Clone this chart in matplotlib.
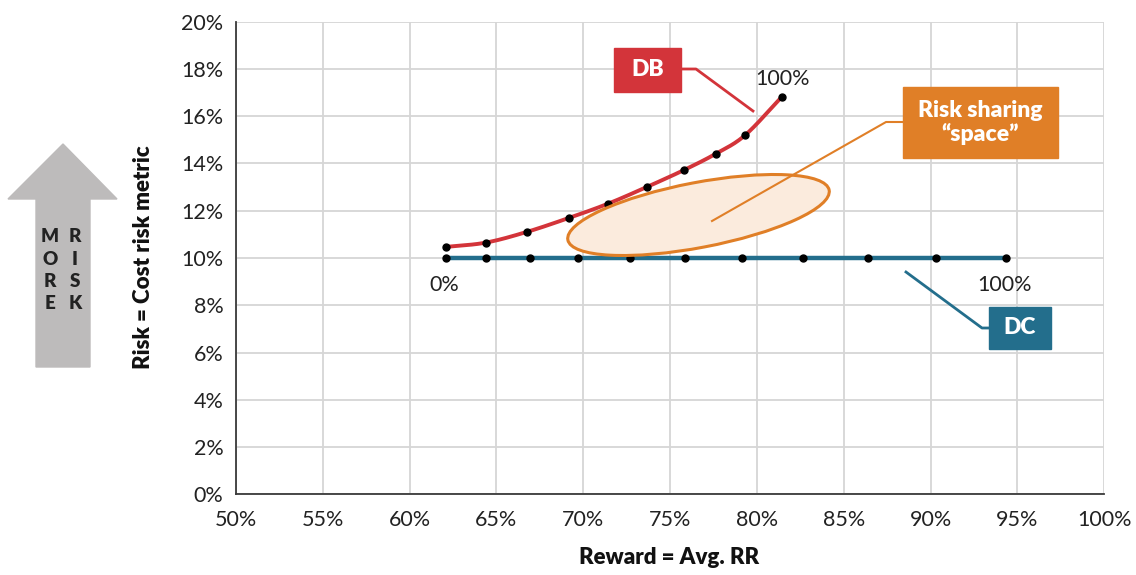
import numpy as np
import matplotlib
matplotlib.use('Agg')
import matplotlib.pyplot as plt
from matplotlib.patches import Rectangle, Polygon, Ellipse
from matplotlib.lines import Line2D
import matplotlib.transforms as mtransforms

plt.rcParams['font.family'] = ['Lato', 'DejaVu Sans']

# reward (avg RR, %) and risk (cost risk metric, %)
db_reward = [62.10, 64.38, 66.73, 69.15, 71.43, 73.64, 75.79, 77.65, 79.32, 81.43]
db_risk = [10.47, 10.65, 11.10, 11.69, 12.30, 13.00, 13.72, 14.42, 15.20, 16.82]

dc_reward = [62.09, 64.41, 66.91, 69.68, 72.66, 75.87, 79.12, 82.65, 86.40, 90.31, 94.34]
dc_risk = [10.0, 10.0, 10.0, 10.0, 10.0, 10.0, 10.0, 10.0, 10.0, 10.0, 10.0]

x_ticks = [50, 55, 60, 65, 70, 75, 80, 85, 90, 95, 100]
y_ticks = [0, 2, 4, 6, 8, 10, 12, 14, 16, 18, 20]

RED = '#D3343A'
TEAL = '#236E8C'
ORANGE = '#E07F27'
W, H = 1136, 575


def smooth(x, y, n=20):
    # catmull-rom for drawing a smooth line like excel does
    x = np.asarray(x, float)
    y = np.asarray(y, float)
    px = np.concatenate([[2 * x[0] - x[1]], x, [2 * x[-1] - x[-2]]])
    py = np.concatenate([[2 * y[0] - y[1]], y, [2 * y[-1] - y[-2]]])
    ox, oy = [], []
    t = np.linspace(0, 1, n, endpoint=False)
    for i in range(1, len(px) - 2):
        for p, o in ((px, ox), (py, oy)):
            p0, p1, p2, p3 = p[i - 1], p[i], p[i + 1], p[i + 2]
            o.extend(0.5 * ((2 * p1) + (-p0 + p2) * t +
                            (2 * p0 - 5 * p1 + 4 * p2 - p3) * t ** 2 +
                            (-p0 + 3 * p1 - 3 * p2 + p3) * t ** 3))
    ox.append(x[-1])
    oy.append(y[-1])
    return ox, oy


def fx(x):
    return x / W


def fy(y):
    return 1 - y / H


fig = plt.figure(figsize=(W / 100, H / 100), dpi=100)
ax = fig.add_axes([fx(236), fy(494.3), fx(1104.3) - fx(236), fy(21.7) - fy(494.3)])

ax.set_xlim(50, 100)
ax.set_ylim(0, 20)
ax.set_xticks(x_ticks)
ax.set_yticks(y_ticks)
ax.set_xticklabels([f'{v}%' for v in x_ticks])
ax.set_yticklabels([f'{v}%' for v in y_ticks])
ax.tick_params(length=0, labelsize=15.5, colors='#222222')
ax.tick_params(axis='x', pad=11)
ax.tick_params(axis='y', pad=9)
ax.grid(True, color='#D6D6D6', lw=1.3)
ax.set_axisbelow(True)
for s in ['top', 'right']:
    ax.spines[s].set_visible(False)
for s in ['left', 'bottom']:
    ax.spines[s].set_color('#3A3A3A')
    ax.spines[s].set_linewidth(1.3)

# risk sharing ellipse (drawn in pixel space)
fig.canvas.draw()
cx, cy = 698.5, 215
ell = Ellipse((0, 0), width=266, height=65, angle=10.8,
              facecolor='#FBEBDD', edgecolor=ORANGE, lw=2.2, zorder=2)
ell.set_transform(mtransforms.Affine2D().translate(cx, H - cy))
fig.add_artist(ell)

sx, sy = smooth(db_reward, db_risk)
ax.plot(sx, sy, color=RED, lw=2.8, zorder=3, solid_capstyle='round')
ax.plot(db_reward, db_risk, 'o', color='black', ms=5, zorder=4)
ax.plot(dc_reward, dc_risk, color=TEAL, lw=3.2, zorder=3)
ax.plot(dc_reward, dc_risk, 'o', color='black', ms=5, zorder=4)

# end labels
fig.text(fx(444), fy(285), '0%', ha='center', va='center', fontsize=15.5, color='#222222')
fig.text(fx(1005), fy(285), '100%', ha='center', va='center', fontsize=15.5, color='#222222')
fig.text(fx(783), fy(79), '100%', ha='center', va='center', fontsize=15.5, color='#222222')


def callout(x0, y0, x1, y1, color, label, pts, lw=1.6):
    fig.add_artist(Rectangle((fx(x0), fy(y1)), fx(x1) - fx(x0), fy(y0) - fy(y1),
                             transform=fig.transFigure, color=color, zorder=6))
    fig.text(fx((x0 + x1) / 2), fy((y0 + y1) / 2), label, ha='center', va='center',
             color='white', fontsize=16.5, fontweight='heavy', zorder=7, linespacing=1.1)
    fig.add_artist(Line2D([fx(p[0]) for p in pts], [fy(p[1]) for p in pts],
                          transform=fig.transFigure, color=color, lw=lw, zorder=5))


callout(614, 48, 681, 92, RED, 'DB', [(681, 69), (696, 69), (753, 111)], lw=2)
callout(989, 307, 1051, 349, TEAL, 'DC', [(989, 328), (982, 328), (906, 272)], lw=2)
callout(903, 87, 1058, 158, ORANGE, 'Risk sharing\n\u201cspace\u201d',
        [(903, 122), (886, 122), (712, 221)], lw=1.5)

# MORE RISK arrow
arrow = [(63, 144), (117, 199), (90, 199), (90, 367), (36, 367), (36, 199), (8, 199)]
fig.add_artist(Polygon([(fx(a), fy(b)) for a, b in arrow], closed=True,
                       transform=fig.transFigure, color='#BDBBBB', zorder=1))
for i, (a, b) in enumerate(zip('MORE', 'RISK')):
    yy = fy(237 + i * 22.3)
    fig.text(fx(50), yy, a, ha='center', va='center', fontsize=13.5, fontweight='heavy', color='#222222')
    fig.text(fx(75), yy, b, ha='center', va='center', fontsize=13.5, fontweight='heavy', color='#222222')

fig.text(fx(143), fy(257), 'Risk = Cost risk metric', rotation=90, ha='center', va='center',
         fontsize=16, fontweight='heavy', color='#111111')
fig.text(fx(669), fy(558), 'Reward = Avg. RR', ha='center', va='center',
         fontsize=16, fontweight='heavy', color='#111111')

fig.savefig('out.png', dpi=100)
